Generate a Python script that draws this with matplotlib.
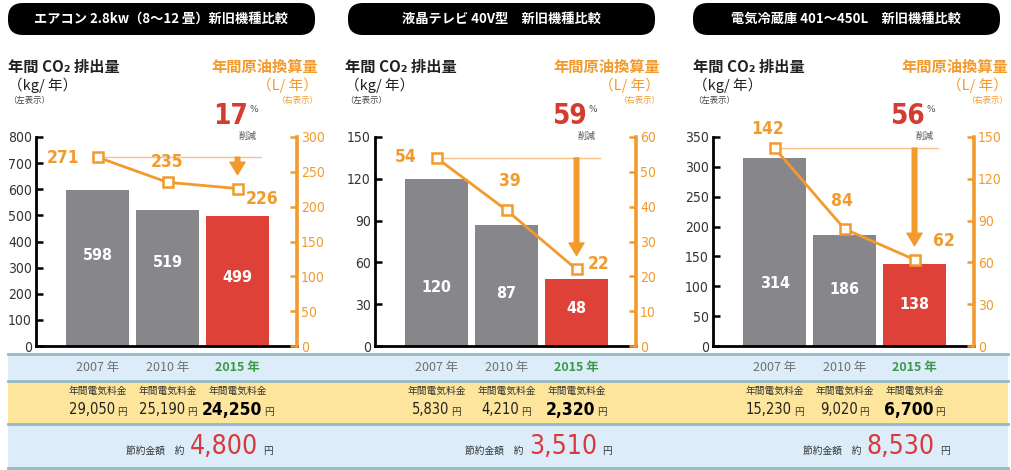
import matplotlib.pyplot as plt
import matplotlib.transforms as mtransforms
import matplotlib.font_manager as fm
from matplotlib.patches import FancyBboxPatch, Rectangle
from matplotlib.lines import Line2D
from matplotlib.offsetbox import TextArea, HPacker, AnnotationBbox

# ---- data ----
titles = ['エアコン 2.8kw（8〜12 畳）新旧機種比較',
          '液晶テレビ 40V型　新旧機種比較',
          '電気冷蔵庫 401〜450L　新旧機種比較']
years = ['2007 年', '2010 年', '2015 年']
co2 = [[598, 519, 499], [120, 87, 48], [314, 186, 138]]
oil = [[271, 235, 226], [54, 39, 22], [142, 84, 62]]
co2_max = [800, 150, 350]
co2_step = [100, 30, 50]
oil_max = [300, 60, 150]
oil_step = [50, 10, 30]
cut_pct = ['17', '59', '56']
bills = [['29,050', '25,190', '24,250'],
         ['5,830', '4,210', '2,320'],
         ['15,230', '9,020', '6,700']]
savings = ['4,800', '3,510', '8,530']

# ---- style ----
GRAY = '#87878b'
RED = '#de4137'
ORANGE = '#f39a2c'
LIGHT_OR = '#f8c18a'
BLUE_BG = '#dcedf9'
YELLOW_BG = '#fde59c'
SEP = '#93b9c6'
JP = ['Noto Sans CJK JP', 'DejaVu Sans']
names = {f.name for f in fm.fontManager.ttflist}
NUM = 'Liberation Sans Narrow' if 'Liberation Sans Narrow' in names else 'DejaVu Sans'
plt.rcParams['font.family'] = JP

W, H, DPI = 1011, 470, 100
fig = plt.figure(figsize=(W / DPI, H / DPI), dpi=DPI)
# pixel coords measured from the top-left corner
px = mtransforms.Affine2D().scale(1, -1).translate(0, H).scale(1 / DPI) + fig.dpi_scale_trans

ax_left = [36, 375, 713]
ax_w, ax_top, ax_bot = 261, 137, 346
xlim = (-0.88, 2.85)
pill_x = [8, 348, 693]
head_l = [8, 345, 693]
head_r = [318, 660, 1008]
bar_lab_y = [[0.435, 0.40, 0.33], [0.28, 0.25, 0.18], [0.30, 0.27, 0.20]]
val_lab = [[('right', -18, -1), ('center', 0, 20), ('left', 8, -10)],
           [('right', -20, 1), ('center', 3, 29), ('left', 11, 5)],
           [('center', -7, 19), ('center', -3, 28), ('left', 18, 19)]]


def group(parts, x, y, align=(0.5, 0.5), sep=2):
    kids = [TextArea(s, textprops=p) for s, p in parts]
    box = HPacker(children=kids, align='baseline', pad=0, sep=sep)
    ab = AnnotationBbox(box, (x, y), xycoords=px, box_alignment=align,
                        frameon=False, pad=0)
    fig.add_artist(ab)


# bottom bands
fig.add_artist(Rectangle((8, 354), 1000, 114, transform=px, fc=BLUE_BG, ec='none'))
fig.add_artist(Rectangle((8, 381), 1000, 43, transform=px, fc=YELLOW_BG, ec='none'))
for yy in [354, 381, 424, 468]:
    fig.add_artist(Line2D([8, 1008], [yy, yy], transform=px, color=SEP, lw=2))

for p in range(3):
    L = ax_left[p]

    def cx(i):
        return L + (i - xlim[0]) / (xlim[1] - xlim[0]) * ax_w

    # title pill
    fig.add_artist(FancyBboxPatch((pill_x[p], 3), 307, 32, transform=px,
                                  boxstyle='round,pad=0,rounding_size=15',
                                  fc='black', ec='none'))
    fig.text(pill_x[p] + 153, 19, titles[p], transform=px, color='white',
             fontsize=9.5, fontweight='bold', ha='center', va='center')

    # headers
    fig.text(head_l[p], 67, '年間 CO₂ 排出量', transform=px, fontsize=11,
             fontweight='bold', va='center', ha='left', color='#222222')
    fig.text(head_l[p], 85, '（kg/ 年）', transform=px, fontsize=10.5,
             va='center', ha='left', color='#222222')
    fig.text(head_l[p], 101, '（左表示）', transform=px, fontsize=6,
             va='center', ha='left', color='#444444')
    fig.text(head_r[p], 67, '年間原油換算量', transform=px, fontsize=11,
             fontweight='bold', va='center', ha='right', color=ORANGE)
    fig.text(head_r[p], 85, '（L/ 年）', transform=px, fontsize=10.5,
             va='center', ha='right', color=ORANGE)
    fig.text(head_r[p], 101, '（右表示）', transform=px, fontsize=6,
             va='center', ha='right', color=ORANGE)

    # chart
    ax = fig.add_axes([L / W, (H - ax_bot) / H, ax_w / W, (ax_bot - ax_top) / H])
    x = [0, 1, 2]
    ax.bar(x, co2[p], width=0.9, color=[GRAY, GRAY, RED])
    ax.set_xlim(*xlim)
    ax.set_ylim(0, co2_max[p])
    yt = list(range(0, co2_max[p] + 1, co2_step[p]))
    ax.set_yticks(yt, [str(t) for t in yt], fontfamily=NUM, fontstretch='condensed')
    ax.set_xticks([])
    ax.tick_params(axis='y', direction='in', length=5, width=1.8, pad=3,
                   labelsize=10, labelcolor='#333333', color='black')
    for s in ['top', 'right']:
        ax.spines[s].set_visible(False)
    ax.spines['left'].set_linewidth(2)
    ax.spines['bottom'].set_linewidth(2)
    for i, v in enumerate(co2[p]):
        ax.text(i, bar_lab_y[p][i], str(v), transform=ax.get_xaxis_transform(),
                ha='center', va='center', color='white', fontsize=11.5,
                fontweight='bold', fontfamily=NUM, fontstretch='condensed')

    ax2 = ax.twinx()
    ax2.set_ylim(0, oil_max[p])
    ot = list(range(0, oil_max[p] + 1, oil_step[p]))
    ax2.set_yticks(ot, [str(t) for t in ot], fontfamily=NUM, fontstretch='condensed')
    ax2.tick_params(axis='y', direction='in', length=5, width=1.8, pad=3,
                    labelsize=10, labelcolor=ORANGE, color=ORANGE)
    for s in ['top', 'left', 'bottom']:
        ax2.spines[s].set_visible(False)
    ax2.spines['right'].set_color(ORANGE)
    ax2.spines['right'].set_linewidth(2.6)

    ax2.plot([0, 2.34], [oil[p][0], oil[p][0]], color=LIGHT_OR, lw=1, zorder=1)
    ax2.annotate('', xy=(2, oil[p][2]), xytext=(2, oil[p][0]),
                 arrowprops=dict(arrowstyle='simple,head_length=0.75,head_width=0.9,tail_width=0.28',
                                 color=ORANGE, shrinkA=0, shrinkB=10, mutation_scale=12),
                 zorder=2)
    ax2.plot(x, oil[p], color=ORANGE, lw=2, marker='s', ms=7.5, mfc='white',
             mec=ORANGE, mew=1.8, zorder=3)
    for i, v in enumerate(oil[p]):
        ha, dx, dy = val_lab[p][i]
        ax2.annotate(str(v), (i, v), xytext=(dx, dy), textcoords='offset pixels',
                     ha=ha, va='center', color=ORANGE, fontsize=12.5,
                     fontweight='bold', fontfamily=NUM, fontstretch='condensed')

    # reduction percentage
    c3 = cx(2)
    fig.text(c3 + 10, 116, cut_pct[p], transform=px, color='#d43c32', fontsize=20,
             fontweight='semibold', ha='right', va='center', fontfamily=NUM,
             fontstretch='condensed')
    fig.text(c3 + 12, 110, '%', transform=px, color='#555555', fontsize=6.5,
             ha='left', va='center', fontfamily=NUM)
    fig.text(c3 + 10, 136, '削減', transform=px, color='#555555', fontsize=6.5,
             ha='center', va='center')

    # bottom rows
    for i in range(3):
        c = cx(i)
        if i == 2:
            fig.text(c, 368, years[i], transform=px, color='#3a9a4a', fontsize=9,
                     fontweight='bold', ha='center', va='center')
        else:
            fig.text(c, 368, years[i], transform=px, color='#707070', fontsize=9,
                     ha='center', va='center')
        fig.text(c, 391, '年間電気料金', transform=px, color='#333333', fontsize=7,
                 ha='center', va='center')
        if i == 2:
            num = dict(fontsize=12.5, fontweight='bold', color='black',
                       fontfamily=NUM, fontstretch='condensed')
        else:
            num = dict(fontsize=10.5, color='#222222', fontfamily=NUM,
                       fontstretch='condensed')
        group([(bills[p][i], num),
               ('円', dict(fontsize=7, color='#333333', fontfamily=JP))],
              c, 410, sep=1.5)

    group([('節約金額　約', dict(fontsize=7, color='#333333', fontfamily=JP)),
           (savings[p], dict(fontsize=19, color='#d8393a', fontfamily=NUM,
                             fontstretch='condensed')),
           ('円', dict(fontsize=7, color='#333333', fontfamily=JP))],
          c3 + 35, 447, align=(1, 0.5), sep=3.5)

fig.savefig('out.png', dpi=DPI)
